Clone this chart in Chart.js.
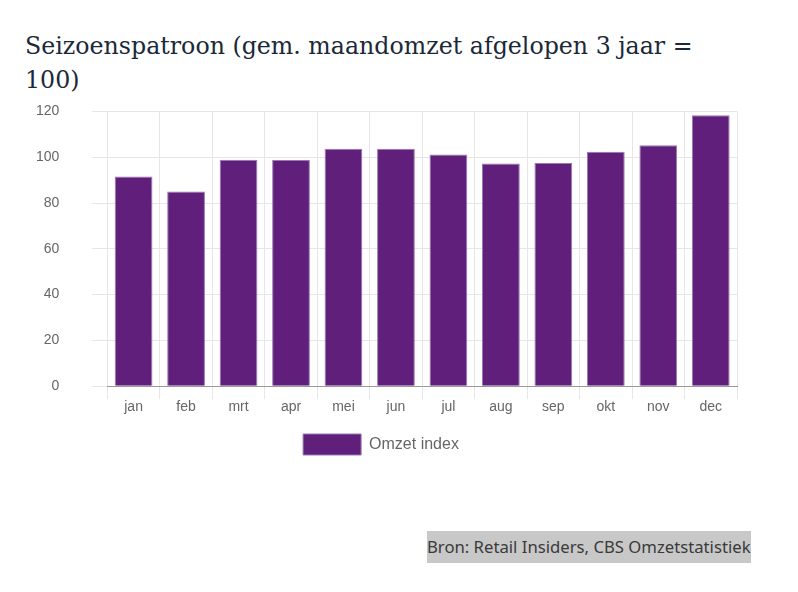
<!DOCTYPE html>
<html>
<head>
<meta charset="utf-8">
<script src="https://cdn.jsdelivr.net/npm/chart.js@4"></script>
<style>
  body { margin: 0; background: #fff; }
  #titel {
    position: absolute; left: 25px; top: 29px;
    font-family: "DejaVu Serif", serif; font-size: 23.7px; line-height: 34px;
    color: #1b2837; white-space: nowrap;
  }
  #wrap { position: absolute; left: 0; top: 70px; width: 760px; height: 401px; }
  #bron {
    position: absolute; left: 427px; top: 531px; height: 32px; line-height: 32px;
    background: #c8c8c8; color: #3a3a3a;
    font-family: "Noto Sans", sans-serif; font-size: 16.7px; white-space: nowrap;
  }
</style>
</head>
<body>
<div id="titel">Seizoenspatroon (gem. maandomzet afgelopen 3 jaar =<br>100)</div>
<div id="wrap"><canvas id="grafiek"></canvas></div>
<div id="bron">Bron: Retail Insiders, CBS Omzetstatistiek</div>
<script>
const maanden = ['jan', 'feb', 'mrt', 'apr', 'mei', 'jun', 'jul', 'aug', 'sep', 'okt', 'nov', 'dec'];
const omzetIndex = [91.6, 85.0, 98.9, 98.8, 103.7, 103.7, 101.2, 97.2, 97.5, 102.4, 105.2, 118.3];
const yTicks = [0, 20, 40, 60, 80, 100, 120];

const ctx = document.getElementById('grafiek');

// legenda iets naar rechts, zoals in het origineel
const legendaSchuif = {
    id: 'legendaSchuif',
    afterLayout: chart => { chart.legend.left += 22; }
};

new Chart(ctx, {
    type: 'bar',
    data: {
        labels: maanden,
        datasets: [{
            label: 'Omzet index',
            data: omzetIndex,
            backgroundColor: '#5f1f7b',
            borderColor: '#9b78b0',
            borderWidth: 1
        }]
    },
    options: {
        responsive: true,
        maintainAspectRatio: false,
        animation: false,
        layout: { padding: { left: 3, right: 23, top: 8, bottom: 6 } },
        plugins: {
            legend: {
                position: 'bottom',
                labels: {
                    boxWidth: 58, boxHeight: 21, padding: 18,
                    color: '#666', font: { family: 'Liberation Sans', size: 16 }
                }
            },
            tooltip: { enabled: false }
        },
        scales: {
            x: {
                grid: { color: '#e6e6e6', tickLength: 13 },
                border: { color: '#999' },
                ticks: { color: '#666', padding: 0, font: { family: 'Liberation Sans', size: 14 } }
            },
            y: {
                min: 0, max: 120,
                afterBuildTicks: axis => { axis.ticks = yTicks.map(v => ({ value: v })); },
                grid: { color: '#e6e6e6', tickLength: 15 },
                border: { display: false },
                ticks: { color: '#666', padding: 33, font: { family: 'Liberation Sans', size: 14 } }
            }
        }
    },
    plugins: [legendaSchuif]
});
</script>
</body>
</html>
